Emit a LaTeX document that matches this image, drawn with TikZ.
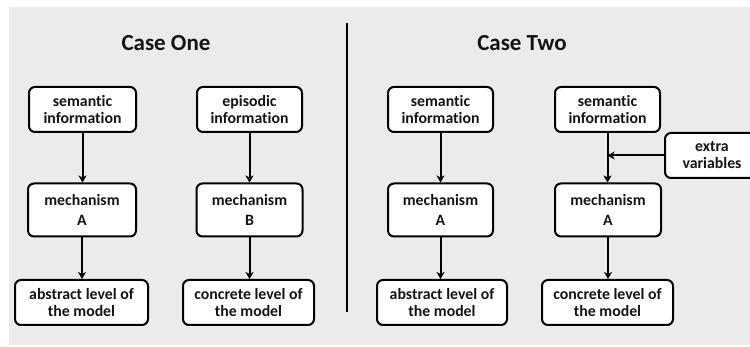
\documentclass[tikz,border=0pt]{standalone}
\usepackage{fontspec}
\setmainfont{Carlito}[RawFeature={-liga,-dlig}]
\usetikzlibrary{arrows.meta}
\begin{document}
\begin{tikzpicture}[x=1pt,y=-1pt,
  box/.style={draw=black, fill=white, line width=2pt, rounded corners=6pt,
    align=center, inner sep=0pt, font=\fontsize{15.8}{17}\selectfont\bfseries,
    text=black!92},
  mech/.style={box, font=\fontsize{15.8}{20}\selectfont\bfseries},
  title/.style={font=\fontsize{23}{26}\selectfont\bfseries, text=black!92},
  link/.style={line width=2pt, -{Stealth[length=7pt,width=8pt,inset=2pt]}}]
  % page and grey panel
  \useasboundingbox (0,0) rectangle (750,347);
  \fill[white] (0,0) rectangle (750,347);
  \fill[black!8] (9,7) rectangle (750,345);

  % titles and divider
  \node[title] (t1) at (166,43) {Case One};
  \node[title] (t2) at (522,43) {Case Two};
  \coordinate (d1) at (347,23);
  \coordinate (d2) at (347,312);
  \draw[line width=2pt] (d1) -- (d2);

  % Case One
  \node[box, minimum width=107, minimum height=45] (s1) at (82.5,109.5) {semantic\\information};
  \node[box, minimum width=105, minimum height=45] (e1) at (249.5,109.5) {episodic\\information};
  \node[mech, minimum width=108, minimum height=53] (m1) at (82,210) {mechanism\\A};
  \node[mech, minimum width=106, minimum height=53] (m2) at (249.5,210) {mechanism\\B};
  \node[box, minimum width=133, minimum height=45] (a1) at (81.5,302.5) {abstract level of\\the model};
  \node[box, minimum width=131, minimum height=45] (c1) at (248.5,302.5) {concrete level of\\the model};

  % Case Two
  \node[box, minimum width=105, minimum height=45] (s2) at (440.5,109.5) {semantic\\information};
  \node[box, minimum width=105, minimum height=45] (s3) at (607.5,109.5) {semantic\\information};
  \node[box, minimum width=94, minimum height=45] (xv) at (712,155.5) {extra\\variables};
  \node[mech, minimum width=105, minimum height=53] (m3) at (440.5,210) {mechanism\\A};
  \node[mech, minimum width=106, minimum height=53] (m4) at (608,210) {mechanism\\A};
  \node[box, minimum width=130, minimum height=45] (a2) at (442,302.5) {abstract level of\\the model};
  \node[box, minimum width=131, minimum height=45] (c2) at (607.5,302.5) {concrete level of\\the model};

  % connectors
  \draw[link] (s1.south) -- (s1.south |- m1.north);
  \draw[link] (e1.south) -- (e1.south |- m2.north);
  \draw[link] (m1.south) -- (m1.south |- a1.north);
  \draw[link] (m2.south) -- (m2.south |- c1.north);
  \draw[link] (s2.south) -- (s2.south |- m3.north);
  \draw[link] (s3.south) -- (s3.south |- m4.north);
  \draw[link] (m3.south) -- (m3.south |- a2.north);
  \draw[link] (m4.south) -- (m4.south |- c2.north);
  \draw[link] (xv.west) -- (xv.west -| s3.south);
\end{tikzpicture}
\end{document}
